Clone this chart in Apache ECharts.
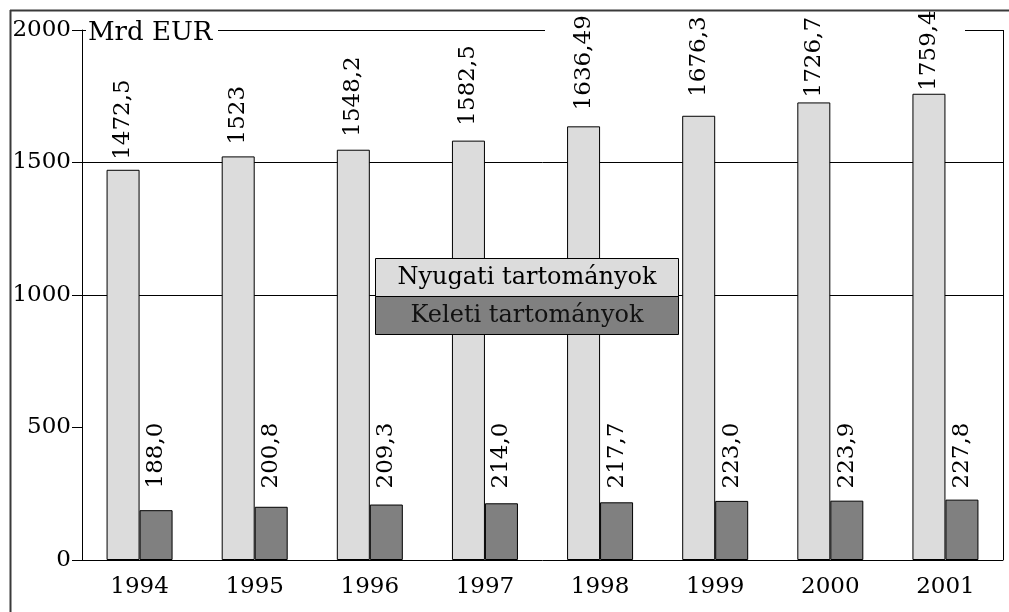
<!DOCTYPE html>
<html>
<head>
<meta charset="utf-8">
<script src="https://cdn.jsdelivr.net/npm/echarts@6/dist/echarts.min.js"></script>
<style>
html,body{margin:0;padding:0;background:#fff;}
#main{width:1009px;height:612px;}
</style>
</head>
<body>
<div id="main"></div>
<script>
// adatok
var years = ['1994', '1995', '1996', '1997', '1998', '1999', '2000', '2001'];
var nyugati = [1472.5, 1523, 1548.2, 1582.5, 1636.49, 1676.3, 1726.7, 1759.4];
var nyugatiLabels = ['1472,5', '1523', '1548,2', '1582,5', '1636,49', '1676,3', '1726,7', '1759,4'];
var keleti = [188.0, 200.8, 209.3, 214.0, 217.7, 223.0, 223.9, 227.8];
var keletiLabels = ['188,0', '200,8', '209,3', '214,0', '217,7', '223,0', '223,9', '227,8'];
var seriesNames = ['Nyugati tartományok', 'Keleti tartományok'];
var yTicks = ['0', '500', '1000', '1500', '2000'];
var keletiLabelBase = 270; // a keleti feliratok egy magasságban kezdődnek

// a nyugati feliratok távolsága az oszloptól (px), ahogy a mintán
var nyugatiLabelGap = [10, 12, 13, 15, 16, 19, 5, 3];

var FONT = 'DejaVu Serif';
var FS = 23;
var INK = '#000';
var GL = 82, GT = 30, GR = 1003, GB = 560;

var myChart = echarts.init(document.getElementById('main'));

function frameLine(x1, y1, x2, y2, w, c) {
	return {type: 'line', shape: {x1: x1, y1: y1, x2: x2, y2: y2}, style: {stroke: c || '#000', lineWidth: w || 1}, z: 10};
}

var option = {
	animation: false,
	backgroundColor: '#fff',
	grid: {left: GL, top: GT, right: 1009 - GR, bottom: 612 - GB, containLabel: false},
	xAxis: {
		type: 'category',
		data: years,
		axisLine: {lineStyle: {color: '#000', width: 1}},
		axisTick: {show: false},
		axisLabel: {color: INK, fontFamily: FONT, fontSize: FS, margin: 16}
	},
	yAxis: {
		type: 'value',
		min: 0,
		max: 2000,
		interval: 500,
		name: 'Mrd EUR',
		nameLocation: 'end',
		nameGap: -3,
		nameTextStyle: {color: INK, fontFamily: FONT, fontSize: 26, align: 'left', verticalAlign: 'middle', padding: [0, 0, 0, 6]},
		axisLine: {show: true, lineStyle: {color: '#000', width: 1}},
		axisTick: {show: true, inside: false, length: 10, lineStyle: {color: '#000'}},
		axisLabel: {
			color: INK, fontFamily: FONT, fontSize: FS, margin: 11,
			formatter: function(v){ return yTicks[Math.round(v / 500)]; }
		},
		splitLine: {show: true, lineStyle: {color: ['rgba(0,0,0,0)', 'rgba(0,0,0,0)', '#000', '#000', 'rgba(0,0,0,0)'], width: 1}}
	},
	series: [
		{
			name: seriesNames[0],
			type: 'bar',
			barWidth: 33,
			barGap: '0%',
			data: nyugati.map(function(v, i){ return {value: v, label: {distance: nyugatiLabelGap[i]}}; }),
			itemStyle: {color: '#dcdcdc', borderColor: '#000', borderWidth: 1},
			label: {
				show: true, position: 'top', rotate: 90, align: 'left', verticalAlign: 'middle', distance: 9,
				color: INK, fontFamily: FONT, fontSize: FS,
				formatter: function(p){ return nyugatiLabels[p.dataIndex]; }
			}
		},
		{
			name: seriesNames[1],
			type: 'bar',
			barWidth: 33,
			barGap: '0%',
			data: keleti,
			itemStyle: {color: '#808080', borderColor: '#000', borderWidth: 1},
			label: {
				show: true, position: 'top', rotate: 90, align: 'left', verticalAlign: 'middle', distance: 15,
				color: INK, fontFamily: FONT, fontSize: FS,
				formatter: function(p){ return keletiLabels[p.dataIndex]; }
			}
		}
	],
	graphic: [
		// keret
		frameLine(10, 10.5, 1009, 10.5, 2, '#3a3a3a'),
		frameLine(10.5, 10, 10.5, 612, 2, '#3a3a3a'),
		// felső vonal a felirat-hézagokkal
		frameLine(GL, GT + 0.5, 86, GT + 0.5),
		frameLine(218, GT + 0.5, 545, GT + 0.5),
		frameLine(965, GT + 0.5, GR + 0.5, GT + 0.5),
		frameLine(GR + 0.5, GT, GR + 0.5, GB),
		// jelmagyarázat
		{type: 'rect', shape: {x: 375.5, y: 258.5, width: 303, height: 38}, style: {fill: '#dcdcdc', stroke: '#000', lineWidth: 1}, z: 20},
		{type: 'rect', shape: {x: 375.5, y: 296.5, width: 303, height: 38}, style: {fill: '#808080', stroke: '#000', lineWidth: 1}, z: 20},
		{type: 'text', x: 527, y: 278, style: {text: seriesNames[0], fill: INK, font: '24px "DejaVu Serif"', align: 'center', verticalAlign: 'middle'}, z: 21},
		{type: 'text', x: 527, y: 316, style: {text: seriesNames[1], fill: '#111', font: '24px "DejaVu Serif"', align: 'center', verticalAlign: 'middle'}, z: 21}
	]
};
myChart.setOption(option);

// a keleti feliratok alját egy szintre igazítjuk a tengely skálájával
var baseY = myChart.convertToPixel({yAxisIndex: 0}, keletiLabelBase);
var keletiData = keleti.map(function(v){
	var y = myChart.convertToPixel({yAxisIndex: 0}, v);
	return {value: v, label: {distance: y - baseY}};
});
myChart.setOption({series: [{}, {data: keletiData}]});
</script>
</body>
</html>
